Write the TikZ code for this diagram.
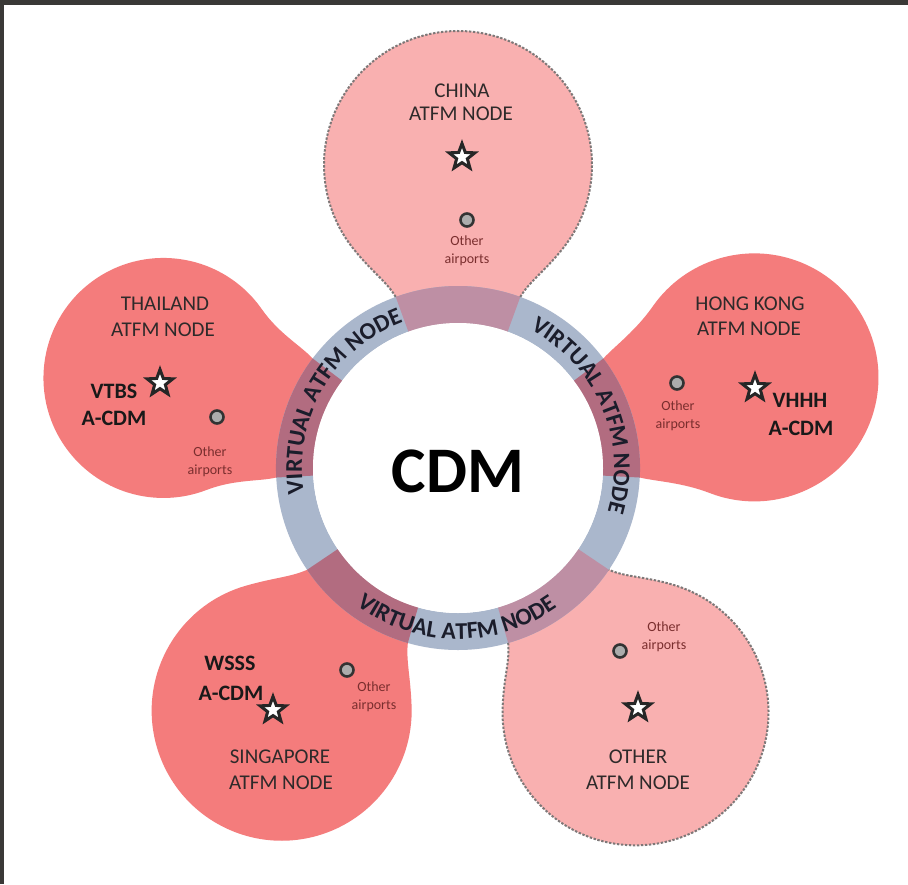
\documentclass[tikz,border=0pt]{standalone}
\usepackage{fontspec}
\setmainfont{Carlito}
\usetikzlibrary{shapes.geometric,decorations.text}
\definecolor{salmon}{HTML}{F47C7C}
\definecolor{lpink}{HTML}{F9B0B0}
\definecolor{ringc}{HTML}{AAB7CC}
\definecolor{mauveA}{HTML}{B26C80}
\definecolor{mauveB}{HTML}{BE8FA4}
\definecolor{bordc}{HTML}{7E7878}
\definecolor{framec}{HTML}{3A3937}
\definecolor{titlec}{HTML}{2E2A2A}
\definecolor{othc}{HTML}{7A2E2E}
\definecolor{ringtxt}{HTML}{1B1D2B}
\newcommand\ringfont{\fontsize{24}{24}\selectfont\bfseries}
% petal outline in a local frame: petal points along +y, ring centre at origin
\newcommand\petalpath[2]{(70:140) -- (70:182) .. controls +(60:18) and +(232:30) .. ([shift={(0,#1)}]-38:#2) arc[start angle=-38, end angle=218, radius=#2] .. controls +(308:30) and +(120:18) .. (110:182) -- (110:140) arc[start angle=110, end angle=70, radius=140] -- cycle}
\newcommand\petalline[2]{(70:182) .. controls +(60:18) and +(232:30) .. ([shift={(0,#1)}]-38:#2) arc[start angle=-38, end angle=218, radius=#2] .. controls +(308:30) and +(120:18) .. (110:182)}
\newcommand\petalfill[4]{\begin{scope}[shift={(458,-468)},rotate=#1]\fill[#4]\petalpath{#2}{#3};\end{scope}}
\newcommand\petalmauve[4]{\begin{scope}[shift={(458,-468)},rotate=#1]\clip\petalpath{#2}{#3};\fill[#4,even odd rule](0,0) circle[radius=182] (0,0) circle[radius=145];\end{scope}}
\newcommand\petaledge[3]{\begin{scope}[shift={(458,-468)},rotate=#1]\draw[petalborder]\petalline{#2}{#3};\end{scope}}
\tikzset{
  petalborder/.style={draw=bordc, line width=2pt, dash pattern=on 2.4pt off 1.6pt},
  title/.style={font=\fontsize{21}{21}\selectfont, text=titlec, anchor=base, inner sep=0pt},
  icao/.style={font=\fontsize{22}{22}\selectfont\bfseries, text=black!90, anchor=base, inner sep=0pt},
  othertxt/.style={font=\fontsize{14}{18}\selectfont, text=othc, align=center, inner sep=0pt},
  apstar/.style={star, star points=5, star point ratio=2.4, minimum size=27pt, inner sep=0pt, draw=black!85, line width=3pt, fill=white},
  apt/.style={circle, minimum size=13pt, inner sep=0pt, draw=black!80, line width=2.6pt, fill=gray!65},
  cdm/.style={font=\fontsize{65}{65}\selectfont\bfseries, text=black, inner sep=0pt},
  ringtext/.style={decorate, decoration={text along path, text={|\ringfont|VIRTUAL ATFM NODE}, text align=center, text color=ringtxt}}
}
\begin{document}
\begin{tikzpicture}[x=1pt,y=1pt]
\useasboundingbox (0,0) rectangle (908,-884);
\fill[white] (0,0) rectangle (908,-884);
\fill[framec] (0,0) rectangle (908,-5);
\fill[framec] (0,0) rectangle (4,-884);
% petals
\petalfill{0}{303}{134}{lpink}
\petalfill{73}{308}{120}{salmon}
\petalfill{-73}{310}{124}{salmon}
\petalfill{144}{300}{130}{salmon}
\petalfill{216}{302}{133}{lpink}
% ring
\coordinate (c) at (458,-468);
\fill[ringc, even odd rule] (c) circle[radius=182] (c) circle[radius=145];
\petalmauve{0}{303}{134}{mauveB}
\petalmauve{73}{308}{120}{mauveA}
\petalmauve{-73}{310}{124}{mauveA}
\petalmauve{144}{300}{130}{mauveA}
\petalmauve{216}{302}{133}{mauveB}
\petaledge{0}{303}{134}
\petaledge{216}{302}{133}
\fill[white] (c) circle[radius=145];
% ring labels
\path[shift={(458,-468)}, ringtext] (191:156) arc[start angle=191, end angle=109, radius=156];
\path[shift={(458,-468)}, ringtext] (63:156) arc[start angle=63, end angle=-17, radius=156];
\path[shift={(458,-468)}, ringtext] (230:171) arc[start angle=230, end angle=309, radius=171];
% centre
\node[cdm] (cdm) at (458,-471) {CDM};
% titles
\node[title] (chinaA) at (462,-97) {CHINA};
\node[title] (chinaB) at (461,-120) {ATFM NODE};
\node[title] (thaiA) at (165,-310) {THAILAND};
\node[title] (thaiB) at (163,-336) {ATFM NODE};
\node[title] (hkA) at (750,-310) {HONG KONG};
\node[title] (hkB) at (749,-335) {ATFM NODE};
\node[title] (sgA) at (280,-763) {SINGAPORE};
\node[title] (sgB) at (281,-789) {ATFM NODE};
\node[title] (otA) at (638,-763) {OTHER};
\node[title] (otB) at (638,-789) {ATFM NODE};
% A-CDM airports
\node[icao] (vtbs) at (114,-398) {VTBS};
\node[icao] (vtbsB) at (114,-425) {A-CDM};
\node[icao] (vhhh) at (800,-407) {VHHH};
\node[icao] (vhhhB) at (801,-435) {A-CDM};
\node[icao] (wsss) at (230,-670) {WSSS};
\node[icao] (wsssB) at (231,-700) {A-CDM};
% stars
\node[apstar] (starCN) at (462,-157) {};
\node[apstar] (starTH) at (160,-383) {};
\node[apstar] (starHK) at (755,-388) {};
\node[apstar] (starSG) at (273,-710) {};
\node[apstar] (starOT) at (638,-708) {};
% other airports
\node[apt] (aptCN) at (467,-220) {};
\node[apt] (aptTH) at (217,-417) {};
\node[apt] (aptHK) at (677,-383) {};
\node[apt] (aptSG) at (347,-670) {};
\node[apt] (aptOT) at (620,-651) {};
\node[othertxt] (oCN) at (467,-251) {Other\\airports};
\node[othertxt] (oTH) at (210,-462) {Other\\airports};
\node[othertxt] (oHK) at (678,-416) {Other\\airports};
\node[othertxt] (oSG) at (374,-697) {Other\\airports};
\node[othertxt] (oOT) at (664,-637) {Other\\airports};
\end{tikzpicture}
\end{document}
